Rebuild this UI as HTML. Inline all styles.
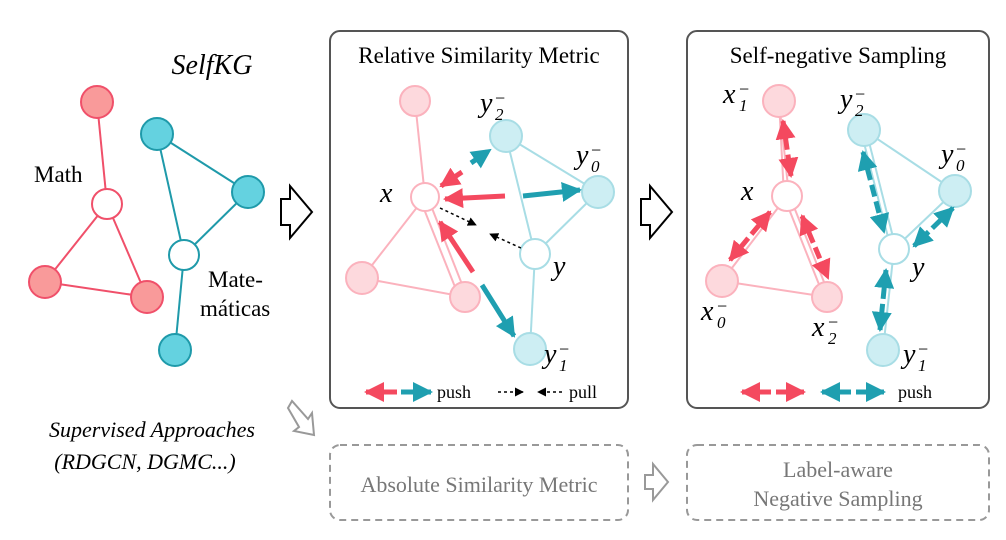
<!DOCTYPE html>
<html><head><meta charset="utf-8"><style>
html,body{margin:0;padding:0;background:#fff;}
svg{display:block;font-family:"Liberation Serif",serif;}
</style></head><body>
<svg width="1006" height="540" viewBox="0 0 1006 540" xmlns="http://www.w3.org/2000/svg">
<defs>
<marker id="hr" viewBox="0 0 10 10" refX="9" refY="5" markerWidth="4" markerHeight="4" orient="auto-start-reverse"><path d="M0,0 L10,5 L0,10 Z" fill="#f4495f"/></marker>
<marker id="ht" viewBox="0 0 10 10" refX="9" refY="5" markerWidth="4" markerHeight="4" orient="auto-start-reverse"><path d="M0,0 L10,5 L0,10 Z" fill="#1f9fb0"/></marker>
<marker id="hk" viewBox="0 0 10 10" refX="9" refY="5" markerWidth="6" markerHeight="6" orient="auto-start-reverse"><path d="M0,0 L10,5 L0,10 Z" fill="#000"/></marker>
</defs>

<text x="212" y="74" font-size="28" font-style="italic" text-anchor="middle">SelfKG</text>
<g stroke="#f0506a" stroke-width="2">
<line x1="97" y1="102" x2="107" y2="204"/><line x1="107" y1="204" x2="45" y2="282"/><line x1="107" y1="204" x2="147" y2="297"/><line x1="45" y1="282" x2="147" y2="297"/>
</g>
<g stroke="#1f9aaa" stroke-width="2">
<line x1="157" y1="134" x2="248" y2="192"/><line x1="157" y1="134" x2="184" y2="255"/><line x1="248" y1="192" x2="184" y2="255"/><line x1="184" y1="255" x2="175" y2="350"/>
</g>
<g stroke="#f0506a" stroke-width="2" fill="#f99a9a">
<circle cx="97" cy="102" r="16"/><circle cx="45" cy="282" r="16"/><circle cx="147" cy="297" r="16"/><circle cx="107" cy="204" r="15" fill="#fff"/>
</g>
<g stroke="#1f9aaa" stroke-width="2" fill="#64d2e0">
<circle cx="157" cy="134" r="16"/><circle cx="248" cy="192" r="16"/><circle cx="175" cy="350" r="16"/><circle cx="184" cy="255" r="15" fill="#fff"/>
</g>
<text x="34" y="182" font-size="23">Math</text>
<text x="208" y="287" font-size="23">Mate-</text>
<text x="200" y="316" font-size="23">máticas</text>

<path d="M281,199 h9 v-13 l22,26 l-22,26 v-13 h-9 Z" fill="#fff" stroke="#000" stroke-width="2"/>
<path d="M641,199 h9 v-13 l22,26 l-22,26 v-13 h-9 Z" fill="#fff" stroke="#000" stroke-width="2"/>

<rect x="330" y="31" width="298" height="377" rx="10" fill="#fff" stroke="#555" stroke-width="2"/>
<text x="479" y="63" font-size="23" text-anchor="middle">Relative Similarity Metric</text>
<g stroke="#fbb2bd" stroke-width="2">
<line x1="415" y1="101" x2="425" y2="197"/><line x1="425" y1="197" x2="362" y2="278"/><line x1="428" y1="198" x2="467" y2="297"/><line x1="420" y1="199" x2="459" y2="297"/><line x1="362" y1="278" x2="465" y2="297"/>
</g>
<g stroke="#a8dde5" stroke-width="2">
<line x1="506" y1="136" x2="598" y2="192"/><line x1="506" y1="136" x2="535" y2="254"/><line x1="598" y1="192" x2="535" y2="254"/><line x1="535" y1="254" x2="530" y2="349"/>
</g>
<g stroke="#fbb2bd" stroke-width="2" fill="#fdd9dd">
<circle cx="415" cy="101" r="15"/><circle cx="362" cy="278" r="16"/><circle cx="465" cy="297" r="15"/><circle cx="425" cy="197" r="14" fill="#fff"/>
</g>
<g stroke="#a8dde5" stroke-width="2" fill="#cdeef3">
<circle cx="506" cy="136" r="16"/><circle cx="598" cy="192" r="16"/><circle cx="530" cy="349" r="16"/><circle cx="535" cy="254" r="15" fill="#fff"/>
</g>
<g stroke-width="5" fill="none" stroke-linecap="butt">
<line x1="462" y1="172" x2="441" y2="186" stroke="#f4495f" marker-end="url(#hr)"/>
<line x1="471" y1="163" x2="490" y2="150" stroke="#1f9fb0" stroke-dasharray="8,4" marker-end="url(#ht)"/>
<line x1="505" y1="196" x2="445" y2="199" stroke="#f4495f" marker-end="url(#hr)"/>
<line x1="523" y1="196" x2="580" y2="190" stroke="#1f9fb0" marker-end="url(#ht)"/>
<line x1="473" y1="272" x2="440" y2="222" stroke="#f4495f" marker-end="url(#hr)"/>
<line x1="482" y1="285" x2="514" y2="336" stroke="#1f9fb0" marker-end="url(#ht)"/>
</g>
<g stroke="#000" stroke-width="1.5" stroke-dasharray="3,3">
<line x1="440" y1="208" x2="476" y2="225" marker-end="url(#hk)"/>
<line x1="521" y1="248" x2="490" y2="234" marker-end="url(#hk)"/>
</g>
<g stroke-width="5">
<line x1="397" y1="392" x2="366" y2="392" stroke="#f4495f" marker-end="url(#hr)"/>
<line x1="401" y1="392" x2="431" y2="392" stroke="#1f9fb0" marker-end="url(#ht)"/>
</g>
<text x="437" y="398" font-size="18">push</text>
<g stroke="#000" stroke-width="1.5" stroke-dasharray="3,3">
<line x1="498" y1="392" x2="523" y2="392" marker-end="url(#hk)"/>
<line x1="562" y1="392" x2="538" y2="392" marker-end="url(#hk)"/>
</g>
<text x="569" y="398" font-size="18">pull</text>
<g font-style="italic" font-size="28">
<text x="380" y="202">x</text>
<text x="553" y="275">y</text>
<text x="480" y="112">y</text><text x="495" y="120" font-size="17">2</text><text x="495" y="104" font-size="18" font-style="normal">−</text>
<text x="576" y="164">y</text><text x="591" y="172" font-size="17">0</text><text x="591" y="156" font-size="18" font-style="normal">−</text>
<text x="544" y="363">y</text><text x="559" y="371" font-size="17">1</text><text x="559" y="355" font-size="18" font-style="normal">−</text>
</g>

<rect x="687" y="31" width="302" height="377" rx="10" fill="#fff" stroke="#555" stroke-width="2"/>
<text x="838" y="63" font-size="23" text-anchor="middle">Self-negative Sampling</text>
<g stroke="#fbb2bd" stroke-width="2">
<line x1="779" y1="101" x2="784" y2="196"/><line x1="779" y1="101" x2="789" y2="196"/><line x1="787" y1="196" x2="722" y2="281"/><line x1="790" y1="197" x2="830" y2="297"/><line x1="785" y1="199" x2="824" y2="297"/><line x1="722" y1="281" x2="827" y2="297"/>
</g>
<g stroke="#a8dde5" stroke-width="2">
<line x1="864" y1="130" x2="955" y2="191"/><line x1="861" y1="131" x2="891" y2="249"/><line x1="866" y1="130" x2="896" y2="249"/><line x1="955" y1="191" x2="894" y2="249"/><line x1="894" y1="249" x2="883" y2="350"/>
</g>
<g stroke="#fbb2bd" stroke-width="2" fill="#fdd9dd">
<circle cx="779" cy="101" r="16"/><circle cx="722" cy="281" r="16"/><circle cx="827" cy="297" r="15"/><circle cx="787" cy="196" r="15" fill="#fff"/>
</g>
<g stroke="#a8dde5" stroke-width="2" fill="#cdeef3">
<circle cx="864" cy="130" r="16"/><circle cx="955" cy="191" r="16"/><circle cx="883" cy="350" r="16"/><circle cx="894" cy="249" r="15" fill="#fff"/>
</g>
<g stroke-width="5" stroke-dasharray="12,5">
<line x1="783" y1="121" x2="791" y2="176" stroke="#f4495f" marker-start="url(#hr)" marker-end="url(#hr)"/>
<line x1="770" y1="212" x2="730" y2="260" stroke="#f4495f" marker-start="url(#hr)" marker-end="url(#hr)"/>
<line x1="802" y1="216" x2="828" y2="278" stroke="#f4495f" marker-start="url(#hr)" marker-end="url(#hr)"/>
<line x1="863" y1="152" x2="884" y2="232" stroke="#1f9fb0" marker-start="url(#ht)" marker-end="url(#ht)"/>
<line x1="953" y1="208" x2="914" y2="246" stroke="#1f9fb0" marker-start="url(#ht)" marker-end="url(#ht)"/>
<line x1="886" y1="270" x2="880" y2="330" stroke="#1f9fb0" marker-start="url(#ht)" marker-end="url(#ht)"/>
<line x1="742" y1="392" x2="804" y2="392" stroke="#f4495f" marker-start="url(#hr)" marker-end="url(#hr)"/>
<line x1="822" y1="392" x2="884" y2="392" stroke="#1f9fb0" marker-start="url(#ht)" marker-end="url(#ht)"/>
</g>
<text x="898" y="398" font-size="18">push</text>
<g font-style="italic" font-size="28">
<text x="741" y="200">x</text>
<text x="912" y="276">y</text>
<text x="723" y="103">x</text><text x="739" y="111" font-size="17">1</text><text x="739" y="95" font-size="18" font-style="normal">−</text>
<text x="701" y="320">x</text><text x="717" y="328" font-size="17">0</text><text x="717" y="312" font-size="18" font-style="normal">−</text>
<text x="812" y="336">x</text><text x="828" y="344" font-size="17">2</text><text x="828" y="328" font-size="18" font-style="normal">−</text>
<text x="840" y="108">y</text><text x="855" y="116" font-size="17">2</text><text x="855" y="100" font-size="18" font-style="normal">−</text>
<text x="941" y="163">y</text><text x="956" y="171" font-size="17">0</text><text x="956" y="155" font-size="18" font-style="normal">−</text>
<text x="903" y="363">y</text><text x="918" y="371" font-size="17">1</text><text x="918" y="355" font-size="18" font-style="normal">−</text>
</g>

<text x="152" y="437" font-size="22" font-style="italic" text-anchor="middle">Supervised Approaches</text>
<text x="145" y="469" font-size="22" font-style="italic" text-anchor="middle">(RDGCN, DGMC...)</text>
<path d="M288,408 l4,-7 l16,18 l4,-6 l2,22 l-20,-4 l5,-4 Z" fill="#fff" stroke="#999" stroke-width="2"/>
<rect x="330" y="445" width="298" height="75" rx="10" fill="none" stroke="#999" stroke-width="2" stroke-dasharray="7,5"/>
<text x="479" y="492" font-size="22" fill="#777" text-anchor="middle">Absolute Similarity Metric</text>
<path d="M645,475 h8 v-11 l15,18 l-15,18 v-11 h-8 Z" fill="#fff" stroke="#999" stroke-width="2"/>
<rect x="687" y="445" width="302" height="75" rx="10" fill="none" stroke="#999" stroke-width="2" stroke-dasharray="7,5"/>
<text x="838" y="477" font-size="22" fill="#777" text-anchor="middle">Label-aware</text>
<text x="838" y="506" font-size="22" fill="#777" text-anchor="middle">Negative Sampling</text>
</svg>
</body></html>
